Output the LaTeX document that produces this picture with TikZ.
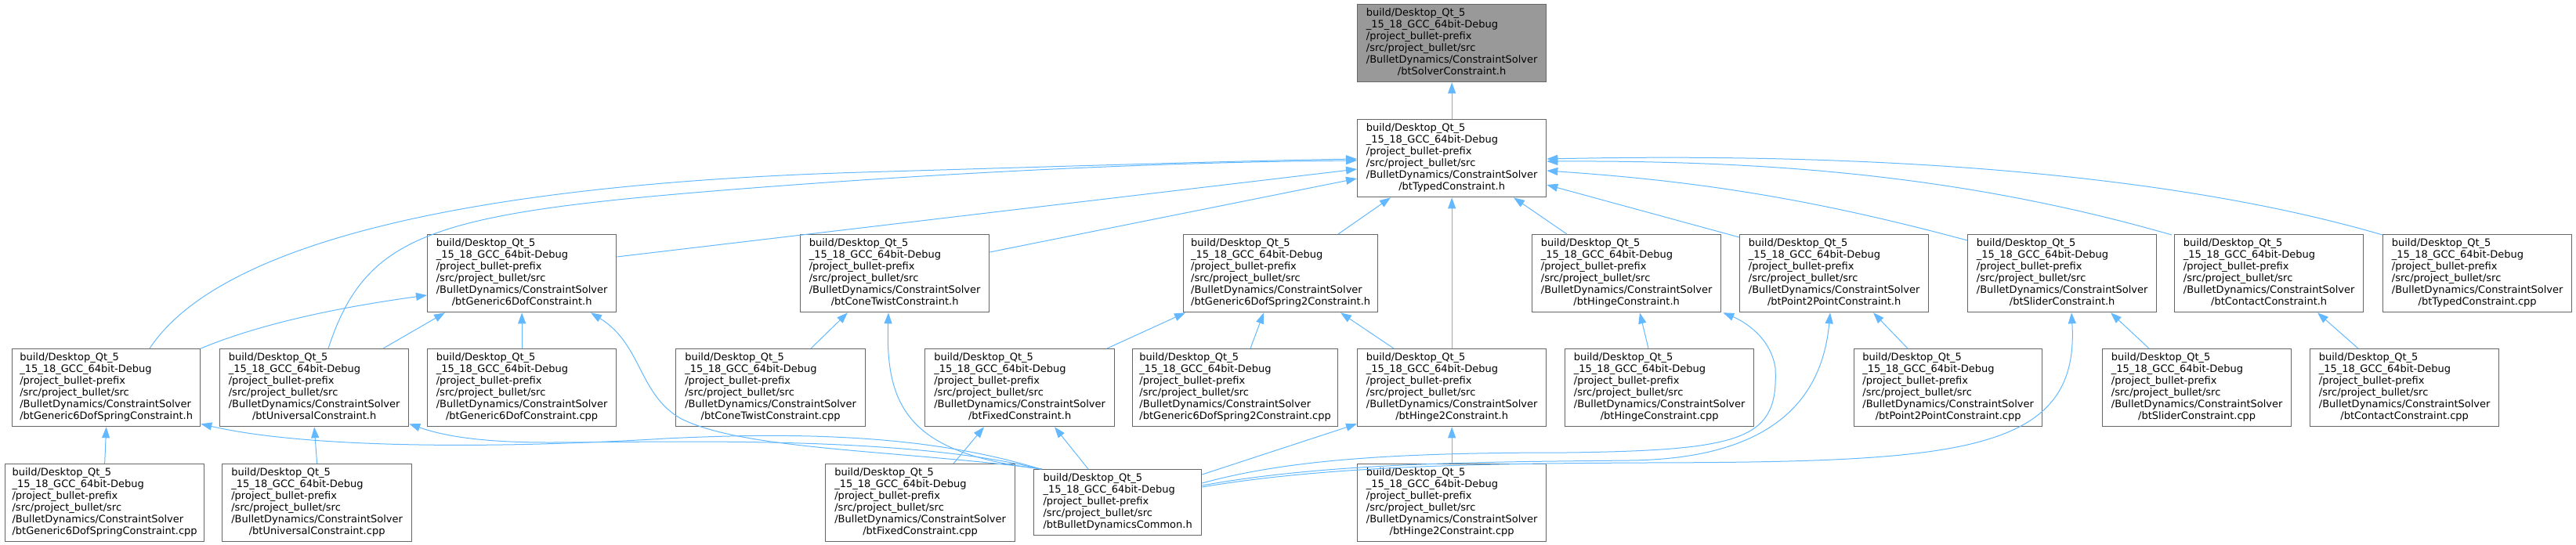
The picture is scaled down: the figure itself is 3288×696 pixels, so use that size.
\documentclass[tikz,border=0pt]{standalone}
\usepackage{fontspec}
\setmainfont{DejaVu Sans}
\usetikzlibrary{arrows.meta,calc}
\definecolor{edgeblue}{HTML}{63B8FF}
\definecolor{boxborder}{HTML}{666666}
\definecolor{rootfill}{HTML}{999999}
\newcommand{\doxlbl}[1]{\begin{tabular}{@{}l@{}}build/Desktop\_Qt\_5\\\_15\_18\_GCC\_64bit-Debug\\/project\_bullet-prefix\\/src/project\_bullet/src\\/BulletDynamics/ConstraintSolver\\\multicolumn{1}{@{}c@{}}{#1}\end{tabular}}
\newcommand{\doxshort}[1]{\begin{tabular}{@{}l@{}}build/Desktop\_Qt\_5\\\_15\_18\_GCC\_64bit-Debug\\/project\_bullet-prefix\\/src/project\_bullet/src\\\multicolumn{1}{@{}c@{}}{#1}\end{tabular}}
\begin{document}
\begin{tikzpicture}[x=1pt,y=-1pt,
  doxbox/.style={draw=boxborder, line width=1.3pt, fill=white, inner sep=0pt, anchor=north west,
    minimum width=241pt, minimum height=99pt, font={\fontsize{13}{14.93}\selectfont}},
  dep/.style={draw=edgeblue, line width=1pt, -{Triangle[length=14pt,width=10pt]}}]
\useasboundingbox (0,0) rectangle (3288,696);
% row 0 and 1
\node[doxbox, fill=rootfill] (solver) at (1732,5) {\doxlbl{/btSolverConstraint.h}};
\node[doxbox] (tc) at (1732,152) {\doxlbl{/btTypedConstraint.h}};
% row 2
\node[doxbox] (g6h) at (545,299) {\doxlbl{/btGeneric6DofConstraint.h}};
\node[doxbox] (ctwh) at (1021,299) {\doxlbl{/btConeTwistConstraint.h}};
\node[doxbox, minimum width=248pt] (s2h) at (1510,299) {\doxlbl{/btGeneric6DofSpring2Constraint.h}};
\node[doxbox] (hingeh) at (1955,299) {\doxlbl{/btHingeConstraint.h}};
\node[doxbox] (p2ph) at (2220,299) {\doxlbl{/btPoint2PointConstraint.h}};
\node[doxbox] (sliderh) at (2511,299) {\doxlbl{/btSliderConstraint.h}};
\node[doxbox] (contacth) at (2775,299) {\doxlbl{/btContactConstraint.h}};
\node[doxbox] (tccpp) at (3041,299) {\doxlbl{/btTypedConstraint.cpp}};
% row 3
\node[doxbox, minimum width=240pt] (sprh) at (15,445) {\doxlbl{/btGeneric6DofSpringConstraint.h}};
\node[doxbox] (univh) at (280,445) {\doxlbl{/btUniversalConstraint.h}};
\node[doxbox] (g6cpp) at (545,445) {\doxlbl{/btGeneric6DofConstraint.cpp}};
\node[doxbox, minimum width=242pt] (ctwcpp) at (862,445) {\doxlbl{/btConeTwistConstraint.cpp}};
\node[doxbox, minimum width=242pt] (fixh) at (1180,445) {\doxlbl{/btFixedConstraint.h}};
\node[doxbox, minimum width=262pt] (s2cpp) at (1445,445) {\doxlbl{/btGeneric6DofSpring2Constraint.cpp}};
\node[doxbox] (hinge2h) at (1732,445) {\doxlbl{/btHinge2Constraint.h}};
\node[doxbox] (hingecpp) at (1997,445) {\doxlbl{/btHingeConstraint.cpp}};
\node[doxbox, minimum width=240pt] (p2pcpp) at (2366,445) {\doxlbl{/btPoint2PointConstraint.cpp}};
\node[doxbox] (slidercpp) at (2683,445) {\doxlbl{/btSliderConstraint.cpp}};
\node[doxbox] (contactcpp) at (2948,445) {\doxlbl{/btContactConstraint.cpp}};
% row 4
\node[doxbox, minimum width=254pt] (sprcpp) at (6,592) {\doxlbl{/btGeneric6DofSpringConstraint.cpp}};
\node[doxbox, minimum width=242pt] (univcpp) at (283,592) {\doxlbl{/btUniversalConstraint.cpp}};
\node[doxbox, minimum width=242pt] (fixcpp) at (1053,592) {\doxlbl{/btFixedConstraint.cpp}};
\node[doxbox, minimum width=214pt, minimum height=84pt] (common) at (1319,599) {\doxshort{/btBulletDynamicsCommon.h}};
\node[doxbox] (hinge2cpp) at (1732,592) {\doxlbl{/btHinge2Constraint.cpp}};

% edges
\draw[dep] (tc.north) -- (solver.south);
\draw[dep] ($(g6h.north east)+(0,29)$) -- ($(tc.north west)+(0,64)$);
\draw[dep] ($(ctwh.north east)+(0,23)$) -- ($(tc.north west)+(0,76)$);
\draw[dep] ($(sprh.north west)+(176,0)$) .. controls (280,310) and (600,235) .. (1100,220)
   .. controls (1400,211) and (1600,205) .. ($(tc.north west)+(0,51)$);
\draw[dep] ($(univh.north west)+(139,0)$) .. controls (470,290) and (560,270) .. (1000,237)
   .. controls (1350,211) and (1600,206) .. ($(tc.north west)+(0,53)$);
\draw[dep] ($(s2h.north west)+(198,0)$) -- ($(tc.south west)+(43,0)$);
\draw[dep] ($(hingeh.north west)+(45,0)$) -- ($(tc.south west)+(200,0)$);
\draw[dep] ($(p2ph.north west)+(0,4)$) -- ($(tc.north east)+(0,84)$);
\draw[dep] ($(sliderh.north west)+(0,8)$) .. controls (2300,250) and (2150,230) .. ($(tc.north east)+(0,66)$);
\draw[dep] ($(contacth.north west)+(-3,1)$) .. controls (2500,222) and (2250,205) .. ($(tc.north east)+(0,54)$);
\draw[dep] ($(tccpp.north west)+(0,1)$) .. controls (2750,215) and (2350,195) .. ($(tc.north east)+(0,51)$);
\draw[dep] (sprh.north east) .. controls (340,410) and (450,390) .. ($(g6h.north west)+(0,78)$);
\draw[dep] ($(univh.north west)+(209,0)$) -- ($(g6h.south west)+(23,0)$);
\draw[dep] (g6cpp.north) -- (g6h.south);
\draw[dep] ($(common.north west)+(11,0)$) .. controls (1150,575) and (950,575) .. (870,535)
   .. controls (815,505) and (820,440) .. ($(g6h.south west)+(209,0)$);
\draw[dep] ($(common.north west)+(9,0)$) .. controls (1200,560) and (1050,550) .. (850,560)
   .. controls (600,575) and (380,570) .. ($(sprh.south east)+(0,-4)$);
\draw[dep] ($(common.north west)+(9,0)$) .. controls (1150,555) and (850,565) .. (700,565)
   .. controls (620,565) and (570,558) .. ($(univh.south east)+(0,-4)$);
\draw[dep] (sprcpp.north) -- (sprh.south);
\draw[dep] (univcpp.north) -- (univh.south);
\draw[dep] ($(ctwcpp.north west)+(173,0)$) -- ($(ctwh.south west)+(61,0)$);
\draw[dep] ($(common.north west)+(11,0)$) .. controls (1160,580) and (1130,520) .. ($(ctwh.south west)+(113,0)$);
\draw[dep] ($(fixh.north west)+(233,0)$) -- ($(s2h.south west)+(3,0)$);
\draw[dep] ($(s2cpp.north west)+(151,0)$) -- ($(s2h.south west)+(103,0)$);
\draw[dep] ($(hinge2h.north west)+(47,0)$) -- ($(s2h.south west)+(201,0)$);
\draw[dep] (hinge2h.north) -- (tc.south);
\draw[dep] ($(fixcpp.north west)+(164,0)$) -- ($(fixh.south west)+(76,0)$);
\draw[dep] ($(common.north west)+(70,0)$) -- ($(fixh.south west)+(166,0)$);
\draw[dep] ($(common.north east)+(0,7)$) -- ($(hinge2h.south west)+(0,-4)$);
\draw[dep] (hinge2cpp.north) -- (hinge2h.south);
\draw[dep] ($(common.north east)+(0,18)$) .. controls (1650,585) and (1800,578) .. (2000,578)
   .. controls (2230,575) and (2270,560) .. (2266,470)
   .. controls (2260,430) and (2225,410) .. ($(hingeh.south east)+(2,0)$);
\draw[dep] ($(common.north east)+(0,21)$) .. controls (1700,590) and (1900,590) .. (2080,588)
   .. controls (2250,586) and (2325,520) .. ($(p2ph.south west)+(116,0)$);
\draw[dep] ($(common.north east)+(0,23)$) .. controls (1700,594) and (1900,592) .. (2100,591)
   .. controls (2500,590) and (2655,580) .. ($(sliderh.south west)+(133,0)$);
\draw[dep] ($(hingecpp.north west)+(107,0)$) -- ($(hingeh.south west)+(138,0)$);
\draw[dep] ($(p2pcpp.north west)+(69,0)$) -- ($(p2ph.south west)+(171,0)$);
\draw[dep] ($(slidercpp.north west)+(60,0)$) -- ($(sliderh.south west)+(183,0)$);
\draw[dep] ($(contactcpp.north west)+(62,0)$) -- ($(contacth.south west)+(183,0)$);
\end{tikzpicture}
\end{document}
